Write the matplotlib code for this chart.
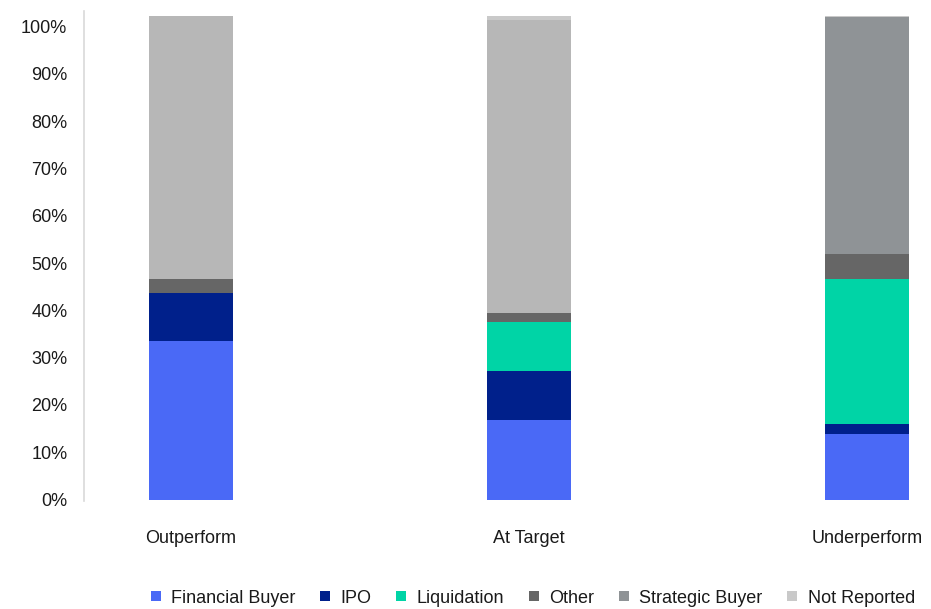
import matplotlib.pyplot as plt
from matplotlib.lines import Line2D
import numpy as np

categories = ['Outperform', 'At Target', 'Underperform']
series = ['Financial Buyer', 'IPO', 'Liquidation', 'Other', 'Strategic Buyer', 'Not Reported']
financial_buyer = [33.5, 16.9, 13.8]
ipo = [10.2, 10.2, 2.1]
liquidation = [0.0, 10.4, 30.7]
other = [2.9, 1.9, 5.3]
strategic_buyer = [55.7, 62.1, 50.2]
not_reported = [0.0, 0.8, 0.2]

colors = {
    'Financial Buyer': '#4a69f6',
    'IPO': '#00208b',
    'Liquidation': '#00d4a6',
    'Other': '#666666',
    'Strategic Buyer': '#8f9396',
    'Not Reported': '#c9c9c9',
}
# the first two bars draw their strategic segment a lighter grey
strategic_bar_colors = ['#b7b7b7', '#b7b7b7', '#8f9396']

plt.rcParams['font.family'] = ['Liberation Sans', 'DejaVu Sans']

fig = plt.figure(figsize=(9.31, 6.09), dpi=100)
ax = fig.add_axes([84 / 931, 108 / 609, 847 / 931, 490 / 609])

x = np.arange(len(categories))
w = 0.25
values = [financial_buyer, ipo, liquidation, other, strategic_buyer, not_reported]
bottom = np.zeros(len(categories))
for name, vals in zip(series, values):
    c = strategic_bar_colors if name == 'Strategic Buyer' else colors[name]
    ax.bar(x, vals, w, bottom=bottom, color=c, linewidth=0)
    bottom += np.array(vals)

ax.set_xlim(-0.317, 2.19)
ax.set_ylim(-0.3, 103.3)
ax.set_yticks(np.arange(0, 101, 10))
ax.set_yticklabels([f'{v}%' for v in range(0, 101, 10)], fontsize=13, color='#1a1a1a')
ax.tick_params(axis='y', length=0, pad=12)
ax.set_xticks([])
for s in ['top', 'right', 'bottom']:
    ax.spines[s].set_visible(False)
ax.spines['left'].set_color('#d9d9d9')
ax.spines['left'].set_linewidth(1.2)

for xi, cat in zip(x, categories):
    ax.text(xi, -8.2, cat, ha='center', va='center', fontsize=13, color='#1a1a1a')

handles = [Line2D([], [], marker='s', linestyle='', markersize=7,
                  markerfacecolor=colors[n], markeredgewidth=0) for n in series]
fig.legend(handles, series, loc='center', bbox_to_anchor=(0.571, 0.018), ncol=6,
           frameon=False, fontsize=13, handlelength=0.8, handletextpad=0.45,
           columnspacing=1.25, labelcolor='#1a1a1a')

fig.savefig('out.png', dpi=100)
